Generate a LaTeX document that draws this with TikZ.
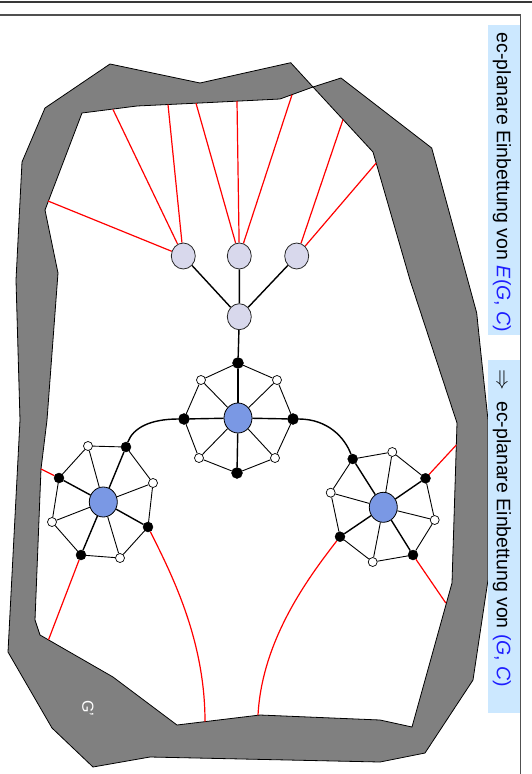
\documentclass[tikz,border=0pt]{standalone}
\usepackage{fontspec}
\setmainfont{Liberation Sans}
\usetikzlibrary{shapes.geometric}
\pgfdeclarelayer{ring}
\pgfdeclarelayer{wires}
\pgfdeclarelayer{front}
\pgfsetlayers{ring,wires,main,front}
\definecolor{ringgray}{RGB}{128,128,128}
\definecolor{hubblue}{RGB}{122,152,228}
\definecolor{lavender}{RGB}{216,216,236}
\definecolor{barblue}{RGB}{204,232,255}
\definecolor{textblue}{RGB}{30,30,255}
\definecolor{framegray}{RGB}{80,80,80}
\tikzset{
  bdot/.style={circle, fill=black, draw=black, inner sep=0pt, minimum size=10pt},
  bigbdot/.style={bdot, minimum size=11pt},
  wdot/.style={circle, fill=white, draw=black, line width=0.7pt, inner sep=0pt, minimum size=9pt},
  hub/.style={ellipse, fill=hubblue, draw=black, line width=0.8pt, inner sep=0pt, minimum width=28pt, minimum height=30pt},
  treenode/.style={ellipse, fill=lavender, draw=black!85, line width=0.8pt, inner sep=0pt, minimum width=24pt, minimum height=26pt},
  rim/.style={draw=black, line width=0.8pt, line join=miter},
  thinwire/.style={draw=black, line width=0.9pt},
  boldwire/.style={draw=black, line width=1.4pt},
  redwire/.style={draw=red, line width=1.2pt},
  barlabel/.style={rotate=-90, inner sep=0pt, font=\fontsize{19.5}{22}\selectfont}
}
\begin{document}
\begin{tikzpicture}[x=1pt, y=-1pt]
\useasboundingbox (0,0) rectangle (532,774);

% page frame
\draw[line width=2pt, color=framegray!70!black] (0,1.5) -- (532,1.5);
\draw[line width=1.6pt, color=framegray] (0,15) -- (520.5,15) -- (520.5,774);

% the surrounding gray region G'
\begin{pgfonlayer}{ring}
\path[fill=ringgray, even odd rule]
  (110,64) -- (200,83) -- (290.7,62.7) -- (313,87) -- (341,78) -- (431.7,148)
  -- (476.7,313) -- (480,345) -- (488,420) -- (488,580) -- (473,680) -- (425,753)
  -- (380,762) -- (150,757) -- (93,767) -- (52,728) -- (8,652) -- (20,420)
  -- (16,280) -- (22,162) -- (45,108) -- cycle
  (82,113) -- (137,106) -- (200,103) -- (280,99) -- (313,87) -- (373,152)
  -- (410,280) -- (457,423) -- (452,583) -- (412,727) -- (380,720) -- (260,715)
  -- (177,725) -- (113,677) -- (40,635) -- (35,620) -- (41,469) -- (47,420)
  -- (58,273) -- (45,210) -- cycle;
\draw[rim]
  (110,64) -- (200,83) -- (290.7,62.7) -- (313,87) -- (341,78) -- (431.7,148)
  -- (476.7,313) -- (480,345) -- (488,420) -- (488,580) -- (473,680) -- (425,753)
  -- (380,762) -- (150,757) -- (93,767) -- (52,728) -- (8,652) -- (20,420)
  -- (16,280) -- (22,162) -- (45,108) -- cycle;
\draw[rim]
  (82,113) -- (137,106) -- (200,103) -- (280,99) -- (313,87) -- (373,152)
  -- (410,280) -- (457,423) -- (452,583) -- (412,727) -- (380,720) -- (260,715)
  -- (177,725) -- (113,677) -- (40,635) -- (35,620) -- (41,469) -- (47,420)
  -- (58,273) -- (45,210) -- cycle;
\end{pgfonlayer}

\node[rotate=-90, text=white, inner sep=0pt, font=\fontsize{16}{16}\selectfont] (glabel) at (88,708) {G'};

% free ends of the red edges on the inner rim
\coordinate (a1) at (48,201);
\coordinate (a2) at (113,109.5);
\coordinate (a3) at (168,104.5);
\coordinate (a4) at (196,103.2);
\coordinate (a5) at (237,101.2);
\coordinate (a6) at (292,94.8);
\coordinate (a7) at (343,119.5);
\coordinate (a8) at (376.2,163);
\coordinate (b1) at (41,469);
\coordinate (b2) at (48.5,639.8);
\coordinate (b3) at (205,721.6);
\coordinate (b4) at (258,715.2);
\coordinate (b5) at (456.3,445);
\coordinate (b6) at (445.8,603);

% tree nodes
\node[treenode] (t0) at (239.3,316.7) {};
\node[treenode] (t1) at (183.3,256) {};
\node[treenode] (t2) at (239.3,256) {};
\node[treenode] (t3) at (296.7,256) {};

% middle wheel
\node[hub] (cc) at (238,418) {};
\node[bigbdot] (c1) at (238,363) {};
\node[wdot] (c2) at (277,380) {};
\node[bigbdot] (c3) at (293,419) {};
\node[wdot] (c4) at (275,458) {};
\node[bigbdot] (c5) at (237,473) {};
\node[wdot] (c6) at (199,458) {};
\node[bigbdot] (c7) at (184,419) {};
\node[wdot] (c8) at (201,380) {};

% left wheel
\node[hub] (ll) at (103.3,502) {};
\node[bdot] (l1) at (126,447) {};
\node[wdot] (l2) at (153,483) {};
\node[bdot] (l3) at (148,527) {};
\node[wdot] (l4) at (120,558) {};
\node[bdot] (l5) at (81,555) {};
\node[wdot] (l6) at (52,522) {};
\node[bdot] (l7) at (59,478) {};
\node[wdot] (l8) at (88,446) {};

% right wheel
\node[hub] (rr) at (383.3,507.3) {};
\node[bdot] (r1) at (352.7,459) {};
\node[wdot] (r2) at (392.3,452) {};
\node[bdot] (r3) at (425.5,478.3) {};
\node[wdot] (r4) at (434.7,520) {};
\node[bdot] (r5) at (413,555) {};
\node[wdot] (r6) at (372.7,562) {};
\node[bdot] (r7) at (340,536.7) {};
\node[wdot] (r8) at (330.7,492.7) {};

\begin{pgfonlayer}{wires}
  % red edges into the rim
  \draw[redwire] (t1) -- (a1) (t1) -- (a2) (t1) -- (a3);
  \draw[redwire] (t2) -- (a4) (t2) -- (a5) (t2) -- (a6);
  \draw[redwire] (t3) -- (a7) (t3) -- (a8);
  \draw[redwire] (l7) -- (b1);
  \draw[redwire] (l5) -- (b2);
  \draw[redwire] (l3) .. controls (172,575) and (205,640) .. (b3);
  \draw[redwire] (r7) .. controls (308,578) and (262,640) .. (b4);
  \draw[redwire] (r3) -- (b5);
  \draw[redwire] (r5) -- (b6);
  % tree
  \draw[boldwire] (t0) -- (t1) (t0) -- (t2) (t0) -- (t3) (t0) -- (c1);
  % links between the wheels
  \draw[boldwire] (c7) .. controls (150,419) and (133,428) .. (l1);
  \draw[boldwire] (c3) .. controls (328,419) and (345,438) .. (r1);
  % wheels
  \foreach \w in {c,l,r}{
    \draw[thinwire] (\w1) -- (\w2) -- (\w3) -- (\w4) -- (\w5) -- (\w6) -- (\w7) -- (\w8) -- (\w1);
  }
  \foreach \i in {1,3,5,7}{
    \draw[boldwire] (cc) -- (c\i);
    \draw[boldwire] (ll) -- (l\i);
    \draw[boldwire] (rr) -- (r\i);
  }
  \foreach \i in {2,4,6,8}{
    \draw[thinwire] (cc) -- (c\i);
    \draw[thinwire] (ll) -- (l\i);
    \draw[thinwire] (rr) -- (r\i);
  }
\end{pgfonlayer}

% side captions
\begin{pgfonlayer}{front}
  \fill[barblue] (488,25) rectangle (519.5,335);
  \fill[barblue] (488,360) rectangle (519.5,713);
  \node[barlabel] (cap1) at (502,182.5)
    {ec-planare Einbettung von \textcolor{textblue}{\textit{E}(\textit{G}, \textit{C})}};
  \node[barlabel] (cap2) at (502,528.5)
    {$\Rightarrow$\ \ ec-planare Einbettung von \textcolor{textblue}{(\textit{G}, \textit{C})}};
\end{pgfonlayer}
\end{tikzpicture}
\end{document}
